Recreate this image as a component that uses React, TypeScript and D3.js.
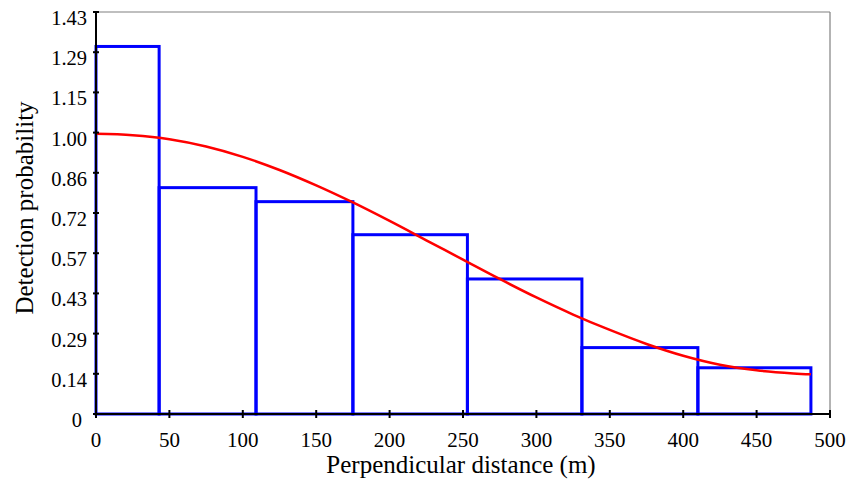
import React from 'react';
import * as d3 from 'd3';

// histogram bins (perpendicular distance, m) and scaled heights
const binEdges = [0, 43, 109, 175, 253, 331, 410, 487];
const binHeights = [1.312, 0.808, 0.758, 0.64, 0.482, 0.237, 0.165];

// fitted detection function
const curveDist = [0, 25, 50, 75, 100, 125, 150, 175, 200, 225, 250, 275, 300, 325, 350, 375, 400, 425, 450, 475, 487];
const curveProb = [1.0, 0.995, 0.981, 0.955, 0.918, 0.871, 0.816, 0.755, 0.689, 0.62, 0.551, 0.482, 0.416, 0.355, 0.3, 0.25, 0.208, 0.176, 0.156, 0.145, 0.142];

const xTicks = [0, 50, 100, 150, 200, 250, 300, 350, 400, 450, 500];
const yTickLabels = ['0', '0.14', '0.29', '0.43', '0.57', '0.72', '0.86', '1.00', '1.15', '1.29', '1.43'];
const yMax = 1.435;

const W = 864;
const H = 483;
const margin = { left: 96, right: 34, top: 12, bottom: 69 };
const font = '"Liberation Serif", "Times New Roman", serif';

export default function App() {
    const x = d3.scaleLinear().domain([0, 500]).range([margin.left, W - margin.right]);
    const y = d3.scaleLinear().domain([0, yMax]).range([H - margin.bottom, margin.top]);
    const yTicks = yTickLabels.map((_, i) => (i * yMax) / 10);

    const line = d3.line<number>()
        .x((_, i) => x(curveDist[i]))
        .y(d => y(d))
        .curve(d3.curveCatmullRom.alpha(0.5));

    const x0 = x(0), x1 = x(500), y0 = y(0), y1 = y(yMax);

    return (
        <svg width={W} height={H} style={{ position: 'absolute', left: 0, top: 0, background: '#fff' }} fontFamily={font}>
            {/* frame */}
            <line x1={x0} x2={x1} y1={y1} y2={y1} stroke="#808080" strokeWidth={1.2} />
            <line x1={x1} x2={x1} y1={y1} y2={y0} stroke="#808080" strokeWidth={1.2} />

            {/* bars */}
            {binHeights.map((h, i) => (
                <rect key={i}
                    x={x(binEdges[i])} y={y(h)}
                    width={x(binEdges[i + 1]) - x(binEdges[i])} height={y0 - y(h)}
                    fill="none" stroke="#0000ff" strokeWidth={3} />
            ))}

            {/* fitted curve */}
            <path d={line(curveProb) || ''} fill="none" stroke="#ff0000" strokeWidth={2.5} />

            {/* axes */}
            <line x1={x0} x2={x1} y1={y0} y2={y0} stroke="#000" strokeWidth={2} />
            <line x1={x0} x2={x0} y1={y1} y2={y0} stroke="#000" strokeWidth={2} />
            {xTicks.map(t => (
                <g key={t}>
                    <line x1={x(t)} x2={x(t)} y1={y0 - 4} y2={y0 + 4} stroke="#000" strokeWidth={2} />
                    <text x={x(t)} y={y0 + 33} textAnchor="middle" fontSize={21}>{t}</text>
                </g>
            ))}
            {yTicks.map((t, i) => (
                <g key={i}>
                    <line x1={x0 - 3} x2={x0 + 3} y1={y(t)} y2={y(t)} stroke="#000" strokeWidth={2} />
                    <text x={i === 0 ? 82 : 87} y={y(t) + 13} textAnchor="end" fontSize={20.5}>{yTickLabels[i]}</text>
                </g>
            ))}

            {/* titles */}
            <text x={461} y={473} textAnchor="middle" fontSize={25}>Perpendicular distance (m)</text>
            <text transform="translate(33,208) rotate(-90)" textAnchor="middle" fontSize={25}>Detection probability</text>
        </svg>
    );
}
